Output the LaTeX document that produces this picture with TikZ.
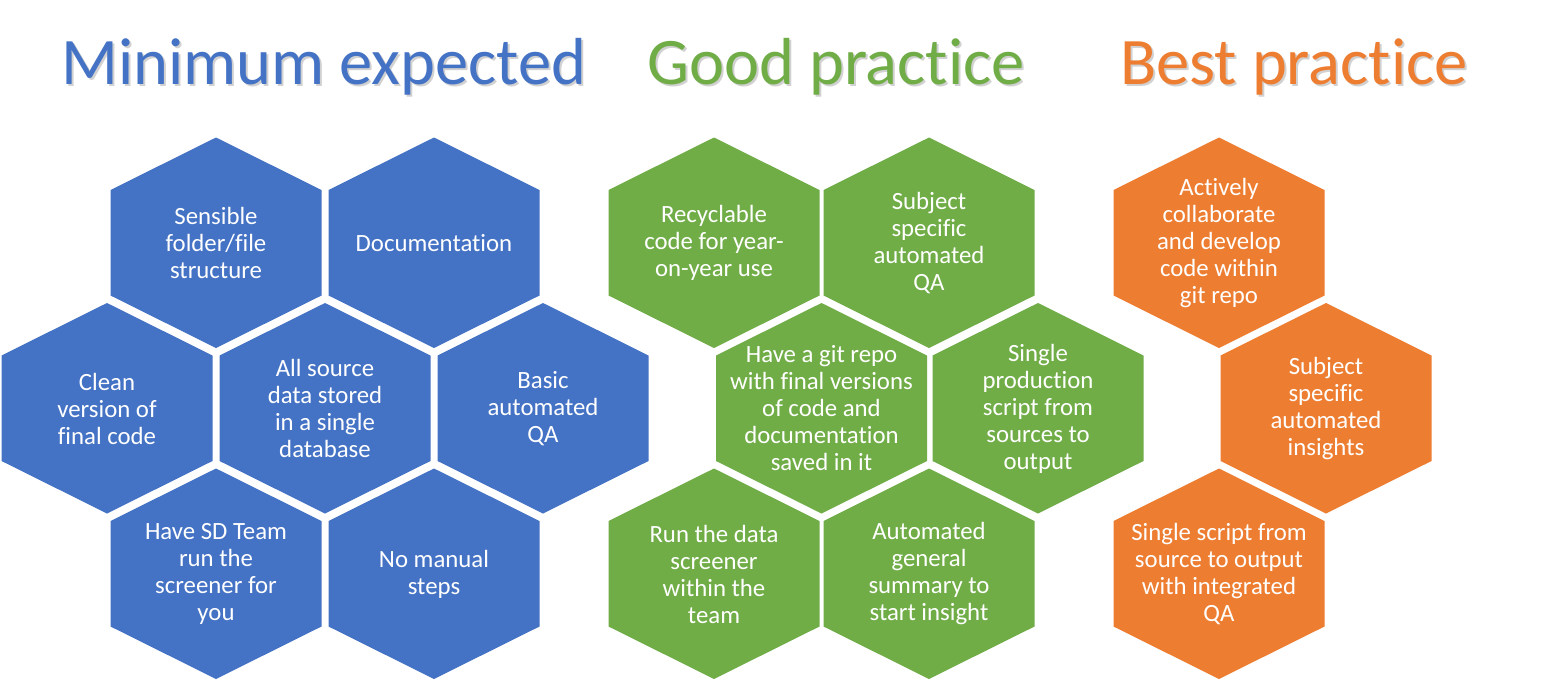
\documentclass[tikz,border=0pt]{standalone}
\usepackage{fontspec}
\setmainfont{Carlito}[Ligatures=NoCommon]
\definecolor{minblue}{HTML}{4472C4}
\definecolor{goodgreen}{HTML}{70AD47}
\definecolor{bestorange}{HTML}{ED7D31}

% hexagon cell: name, x, y, colour, text
\newcommand\hexcell[5]{%
  \fill[#4] (#2,#3) ++(0,-105.5) -- ++(105.5,52.5) -- ++(0,105.5)
    -- ++(-105.5,52.5) -- ++(-105.5,-52.5) -- ++(0,-105.5) -- cycle;
  \node[hextext] (#1) at (#2,#3) {#5};
}

\tikzset{
  hextext/.style={text=white, align=center, inner sep=0pt,
    font=\fontsize{24.8}{27}\selectfont},
  headline/.style={anchor=base west, inner sep=0pt,
    font=\fontsize{66.5}{70}\selectfont},
  headshadow/.style={headline, text=black, opacity=0.18}
}

\begin{document}
\begin{tikzpicture}[x=1pt,y=-1pt]
\fill[white] (0,0) rectangle (1550,681);
\useasboundingbox (0,0) rectangle (1550,681);

% column headings with a soft shadow
\node[headshadow] (minshadow) at (63,86) {Minimum expected};
\node[headline, text=minblue] (minhead) at (61,84) {Minimum expected};
\node[headshadow] (goodshadow) at (649,86) {Good practice};
\node[headline, text=goodgreen] (goodhead) at (647,84) {Good practice};
\node[headshadow] (bestshadow) at (1122,86) {Best practice};
\node[headline, text=bestorange] (besthead) at (1120,84) {Best practice};

% minimum expected
\hexcell{folders}{216}{243}{minblue}{Sensible\\folder/file\\structure}
\hexcell{docs}{434}{243}{minblue}{Documentation}
\hexcell{clean}{107}{408.5}{minblue}{Clean\\version of\\final code}
\hexcell{sourcedata}{325}{408.5}{minblue}{All source\\data stored\\in a single\\database}
\hexcell{basicqa}{543}{408.5}{minblue}{Basic\\automated\\QA}
\hexcell{sdteam}{216}{574}{minblue}{Have SD Team\\run the\\screener for\\you}
\hexcell{nomanual}{434}{574}{minblue}{No manual\\steps}

% good practice
\hexcell{recycle}{714}{243}{goodgreen}{Recyclable\\code for year-\\on-year use}
\hexcell{subjqa}{929}{243}{goodgreen}{Subject\\specific\\automated\\QA}
\hexcell{gitrepo}{821.5}{408.5}{goodgreen}{Have a git repo\\with final versions\\of code and\\documentation\\saved in it}
\hexcell{prodscript}{1038}{408.5}{goodgreen}{Single\\production\\script from\\sources to\\output}
\hexcell{screener}{714}{574}{goodgreen}{Run the data\\screener\\within the\\team}
\hexcell{summary}{929}{574}{goodgreen}{Automated\\general\\summary to\\start insight}

% best practice
\hexcell{collab}{1219}{243}{bestorange}{Actively\\collaborate\\and develop\\code within\\git repo}
\hexcell{insights}{1326}{408.5}{bestorange}{Subject\\specific\\automated\\insights}
\hexcell{integrated}{1219}{574}{bestorange}{Single script from\\source to output\\with integrated\\QA}
\end{tikzpicture}
\end{document}
